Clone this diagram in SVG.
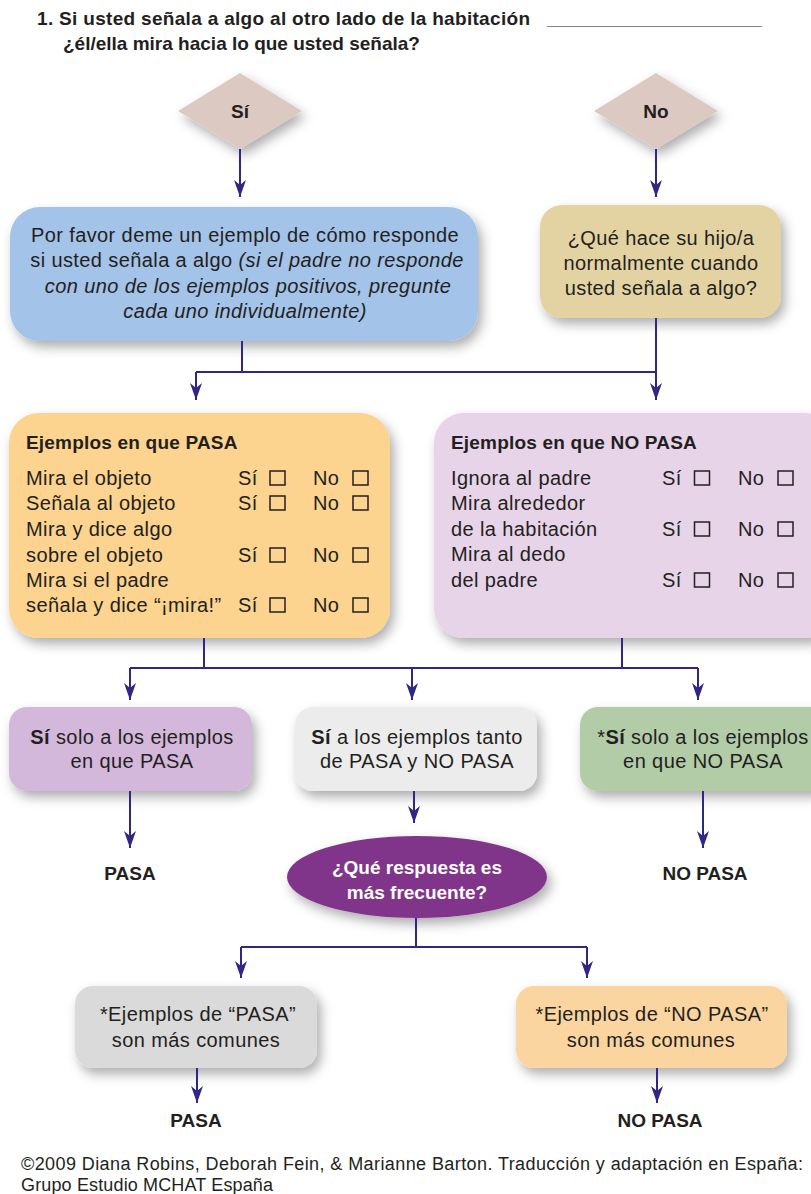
<svg xmlns="http://www.w3.org/2000/svg" width="811" height="1194" viewBox="0 0 811 1194">
<defs>
<filter id="sh" x="-10%" y="-15%" width="125%" height="140%">
<feDropShadow dx="4" dy="6" stdDeviation="6" flood-color="#000" flood-opacity="0.32"/>
</filter>
<marker id="arr" viewBox="0 0 17 12" refX="17" refY="6" markerWidth="17" markerHeight="12" markerUnits="userSpaceOnUse" orient="auto">
<path d="M0,0 L17,6 L0,12 L5,6 Z" fill="#2e2785"/>
</marker>
<style>
text{font-family:"Liberation Sans",Arial,sans-serif;fill:#231f20}
.t{font-size:19px;font-weight:bold}
.b{font-size:20px;letter-spacing:0.4px}
.c{text-anchor:middle}
.h{font-size:19px;font-weight:bold;letter-spacing:0.2px}
.lab{font-size:19px;font-weight:bold;text-anchor:middle}
.cb{fill:none;stroke:#231f20;stroke-width:1.5}
.f{font-size:18px}
.ln{fill:none;stroke:#2e2785;stroke-width:2}
.ar{marker-end:url(#arr)}
</style>
</defs>
<rect width="811" height="1194" fill="#ffffff"/>

<g id="title">
<text class="t" x="37" y="25" textLength="493" lengthAdjust="spacing">1. Si usted señala a algo al otro lado de la habitación</text>
<text class="t" x="547" y="25" textLength="215" lengthAdjust="spacingAndGlyphs">____________________</text>
<text class="t" x="63" y="50">¿él/ella mira hacia lo que usted señala?</text>
</g>

<g id="dSi">
<polygon points="240,73 302,111 240,149 178,111" fill="#dccac2" filter="url(#sh)"/>
<text class="lab" x="240" y="118">Sí</text>
</g>
<g id="dNo">
<polygon points="656,73 718,111 656,149 594,111" fill="#dccac2" filter="url(#sh)"/>
<text class="lab" x="656" y="118">No</text>
</g>

<g id="boxEjemplo">
<rect x="10" y="207" width="468" height="134" rx="30" fill="#a4c3e8" filter="url(#sh)"/>
<text class="b c" x="245" y="242">Por favor deme un ejemplo de cómo responde</text>
<text class="b c" x="247" y="267">si usted señala a algo <tspan font-style="italic">(si el padre no responde</tspan></text>
<text class="b c" x="248" y="293" font-style="italic">con uno de los ejemplos positivos, pregunte</text>
<text class="b c" x="245" y="318" font-style="italic">cada uno individualmente)</text>
</g>

<g id="boxQue">
<rect x="540" y="205" width="241" height="113" rx="22" fill="#e3d3a3" filter="url(#sh)"/>
<text class="b c" x="661" y="245">¿Qué hace su hijo/a</text>
<text class="b c" x="661" y="270">normalmente cuando</text>
<text class="b c" x="661" y="295">usted señala a algo?</text>
</g>

<g id="boxPasa">
<rect x="9" y="413" width="381" height="225" rx="30" fill="#fcd38f" filter="url(#sh)"/>
<text class="h" x="26" y="449">Ejemplos en que PASA</text>
<text class="b" x="26" y="485">Mira el objeto</text>
<text class="b" x="26" y="510">Señala al objeto</text>
<text class="b" x="26" y="536">Mira y dice algo</text>
<text class="b" x="26" y="562">sobre el objeto</text>
<text class="b" x="26" y="587">Mira si el padre</text>
<text class="b" x="26" y="612">señala y dice “¡mira!”</text>
<text class="b" x="238" y="485">Sí</text><rect class="cb" x="270" y="471" width="15" height="14"/>
<text class="b" x="313" y="485">No</text><rect class="cb" x="353" y="471" width="15" height="14"/>
<text class="b" x="238" y="510">Sí</text><rect class="cb" x="270" y="496" width="15" height="14"/>
<text class="b" x="313" y="510">No</text><rect class="cb" x="353" y="496" width="15" height="14"/>
<text class="b" x="238" y="562">Sí</text><rect class="cb" x="270" y="548" width="15" height="14"/>
<text class="b" x="313" y="562">No</text><rect class="cb" x="353" y="548" width="15" height="14"/>
<text class="b" x="238" y="612">Sí</text><rect class="cb" x="270" y="598" width="15" height="14"/>
<text class="b" x="313" y="612">No</text><rect class="cb" x="353" y="598" width="15" height="14"/>
</g>

<g id="boxNoPasa">
<rect x="434" y="413" width="400" height="225" rx="30" fill="#e7d4e8" filter="url(#sh)"/>
<text class="h" x="451" y="449">Ejemplos en que NO PASA</text>
<text class="b" x="451" y="485">Ignora al padre</text>
<text class="b" x="451" y="510">Mira alrededor</text>
<text class="b" x="451" y="536">de la habitación</text>
<text class="b" x="451" y="561">Mira al dedo</text>
<text class="b" x="451" y="587">del padre</text>
<text class="b" x="662" y="485">Sí</text><rect class="cb" x="694.5" y="471" width="15" height="14"/>
<text class="b" x="738" y="485">No</text><rect class="cb" x="778" y="471" width="15" height="14"/>
<text class="b" x="662" y="536">Sí</text><rect class="cb" x="694.5" y="522" width="15" height="14"/>
<text class="b" x="738" y="536">No</text><rect class="cb" x="778" y="522" width="15" height="14"/>
<text class="b" x="662" y="587">Sí</text><rect class="cb" x="694.5" y="573" width="15" height="14"/>
<text class="b" x="738" y="587">No</text><rect class="cb" x="778" y="573" width="15" height="14"/>
</g>

<g id="boxSoloPasa">
<rect x="9" y="707" width="243" height="84" rx="18" fill="#d3b8dc" filter="url(#sh)"/>
<text class="b c" x="132" y="744"><tspan font-weight="bold">Sí</tspan> solo a los ejemplos</text>
<text class="b c" x="132" y="768">en que PASA</text>
</g>
<g id="boxAmbos">
<rect x="295" y="707" width="242" height="84" rx="18" fill="#ececec" filter="url(#sh)"/>
<text class="b c" x="417" y="744"><tspan font-weight="bold">Sí</tspan> a los ejemplos tanto</text>
<text class="b c" x="417" y="768">de PASA y NO PASA</text>
</g>
<g id="boxSoloNoPasa">
<rect x="580" y="707" width="250" height="84" rx="18" fill="#b2cca7" filter="url(#sh)"/>
<text class="b c" x="703" y="744">*<tspan font-weight="bold">Sí</tspan> solo a los ejemplos</text>
<text class="b c" x="703" y="768">en que NO PASA</text>
</g>

<g id="outPasa1"><text class="lab" x="130" y="880">PASA</text></g>
<g id="outNoPasa1"><text class="lab" x="705" y="880">NO PASA</text></g>

<g id="ellipseQue">
<ellipse cx="417" cy="877" rx="130" ry="41" fill="#80358a" filter="url(#sh)"/>
<text class="lab" x="417" y="874" style="fill:#ffffff">¿Qué respuesta es</text>
<text class="lab" x="417" y="899" style="fill:#ffffff">más frecuente?</text>
</g>

<g id="boxComunesPasa">
<rect x="75" y="986" width="242" height="82" rx="18" fill="#dadada" filter="url(#sh)"/>
<text class="b c" x="198" y="1021">*Ejemplos de “PASA”</text>
<text class="b c" x="196" y="1047">son más comunes</text>
</g>
<g id="boxComunesNoPasa">
<rect x="516" y="986" width="271" height="82" rx="18" fill="#fbd5a0" filter="url(#sh)"/>
<text class="b c" x="652" y="1021">*Ejemplos de “NO PASA”</text>
<text class="b c" x="651" y="1047">son más comunes</text>
</g>

<g id="outPasa2"><text class="lab" x="196" y="1127">PASA</text></g>
<g id="outNoPasa2"><text class="lab" x="660" y="1127">NO PASA</text></g>

<g id="connectors">
<path class="ln ar" d="M240,149 V197"/>
<path class="ln ar" d="M656,149 V197"/>
<path class="ln" d="M242,341 V372 M196,372 H656"/>
<path class="ln ar" d="M196,372 V400"/>
<path class="ln ar" d="M656,318 V400"/>
<path class="ln" d="M204,638 V668 M622,638 V668 M130,668 H698"/>
<path class="ln ar" d="M130,668 V700"/>
<path class="ln ar" d="M412,668 V700"/>
<path class="ln ar" d="M698,668 V700"/>
<path class="ln ar" d="M130,791 V848"/>
<path class="ln ar" d="M414,791 V823"/>
<path class="ln ar" d="M703,791 V848"/>
<path class="ln" d="M416,918 V947 M241,947 H587"/>
<path class="ln ar" d="M241,947 V978"/>
<path class="ln ar" d="M587,947 V978"/>
<path class="ln ar" d="M197,1068 V1103"/>
<path class="ln ar" d="M657,1068 V1103"/>
</g>

<g id="footer">
<text class="f" x="21" y="1170" textLength="782" lengthAdjust="spacing">©2009 Diana Robins, Deborah Fein, &amp; Marianne Barton. Traducción y adaptación en España:</text>
<text class="f" x="21" y="1191" textLength="252" lengthAdjust="spacing">Grupo Estudio MCHAT España</text>
</g>
</svg>
